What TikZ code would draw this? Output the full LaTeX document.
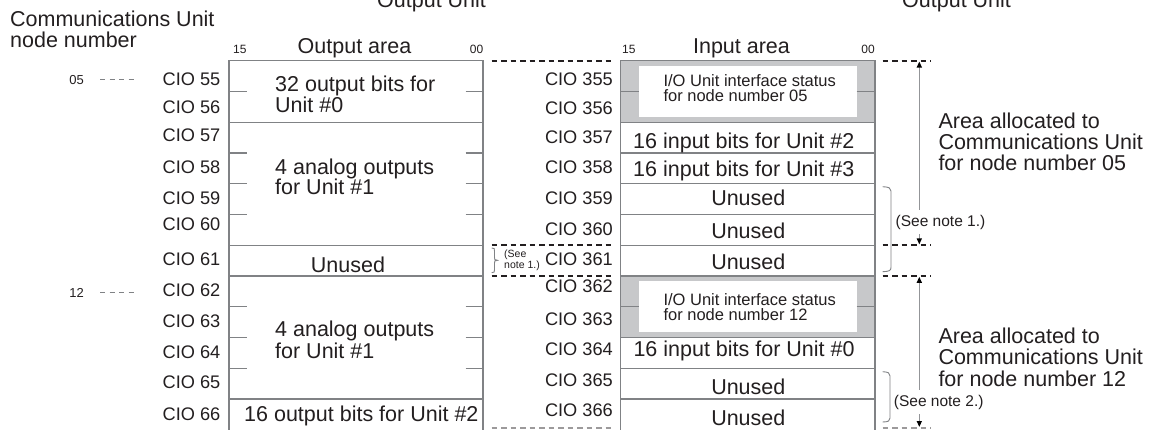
\documentclass[tikz,border=0pt]{standalone}
\usepackage{fontspec}
\setmainfont{Liberation Sans}
\usetikzlibrary{arrows.meta}
\definecolor{txt}{HTML}{231F20}
\definecolor{boxline}{HTML}{808285}
\definecolor{grayfill}{HTML}{C7C8CA}
\definecolor{arrowline}{HTML}{939598}
\begin{document}
\begin{tikzpicture}[x=1pt,y=-1pt,
  lbl/.style={inner sep=0pt, text=txt, font=\fontsize{21.5}{21}\selectfont},
  cio/.style={inner sep=0pt, text=txt, font=\fontsize{18.2}{18}\selectfont, anchor=base east},
  bitno/.style={inner sep=0pt, text=txt, font=\fontsize{12}{12}\selectfont},
  nodeno/.style={inner sep=0pt, text=txt, font=\fontsize{13}{13}\selectfont, anchor=base},
  status/.style={inner sep=0pt, text=txt, font=\fontsize{16.5}{16}\selectfont, anchor=base west},
  note/.style={inner sep=0pt, inner xsep=1pt, inner ysep=5pt, fill=white, text=txt, font=\fontsize{15.5}{15}\selectfont, anchor=base west},
  tinynote/.style={inner sep=0pt, text=txt, font=\fontsize{10.5}{10}\selectfont, anchor=base west},
  boxl/.style={draw=boxline, line width=1.3pt},
  sepline/.style={draw=txt, line width=1.9pt, dash pattern=on 5.5pt off 4pt},
  sepfaint/.style={draw=txt!45, line width=1.6pt, dash pattern=on 5.5pt off 4pt},
  leader/.style={draw=boxline, line width=0.9pt, dash pattern=on 5pt off 4.5pt},
  dimline/.style={draw=arrowline, line width=1.3pt, {Triangle[length=6pt,width=5pt,color=black]}-{Triangle[length=6pt,width=5pt,color=black]}},
  brk/.style={draw=boxline, line width=0.9pt},
]
\useasboundingbox[fill=white] (0,0) rectangle (1159,429);

% ---------- titles ----------
\node[lbl, anchor=base west] (tcu1) at (10,26.5) {Communications Unit};
\node[lbl, anchor=base west] (tcu2) at (10,47) {node number};
\node[lbl, anchor=base west] (tou1) at (377,7.3) {Output Unit};
\node[lbl, anchor=base west] (tou2) at (902,7.3) {Output Unit};

\node[bitno, anchor=base west] (o15) at (233,53) {15};
\node[lbl, anchor=base] (oarea) at (354.5,53) {Output area};
\node[bitno, anchor=base east] (o00) at (483.5,53) {00};
\node[bitno, anchor=base west] (i15) at (622,53) {15};
\node[lbl, anchor=base] (iarea) at (741.5,53) {Input area};
\node[bitno, anchor=base east] (i00) at (875,53) {00};

% ---------- node numbers ----------
\node[nodeno] (n05) at (76.7,84) {05};
\node[nodeno] (n12) at (76.7,297.5) {12};
\coordinate (d05a) at (100,79); \coordinate (d05b) at (137,79);
\coordinate (d12a) at (100,292.7); \coordinate (d12b) at (137,292.7);
\draw[leader] (d05a) -- (d05b);
\draw[leader] (d12a) -- (d12b);

% ---------- output area box ----------
\draw[boxl] (229,434) -- (229,60.7) -- (483,60.7) -- (483,434);
\foreach \yy in {122.2,245.2,275.95,398.95}
  \draw[boxl] (229,\yy) -- (483,\yy);
\foreach \yy in {91.45,152.95,183.7,214.45,306.7,337.45,368.2}{
  \draw[boxl] (229,\yy) -- (246.5,\yy);
  \draw[boxl] (465.5,\yy) -- (483,\yy);
}
\node[lbl, anchor=base west] (ob1a) at (275,91.7) {32 output bits for};
\node[lbl, anchor=base west] (ob1b) at (275,112.7) {Unit \#0};
\node[lbl, anchor=base west] (ob2a) at (275,174.3) {4 analog outputs};
\node[lbl, anchor=base west] (ob2b) at (275,194.3) {for Unit \#1};
\node[lbl, anchor=base] (ob3) at (348,272.5) {Unused};
\node[lbl, anchor=base west] (ob4a) at (275,336.7) {4 analog outputs};
\node[lbl, anchor=base west] (ob4b) at (275,358.3) {for Unit \#1};
\node[lbl, anchor=base west] (ob5) at (244,421.7) {16 output bits for Unit \#2};

\foreach \n/\yy in {55/85,56/113.3,57/141.7,58/173.3,59/204,60/230,61/265,62/296.7,63/327,64/358,65/388,66/420}
  \node[cio] (cio\n) at (220.5,\yy) {CIO \n};

% ---------- input area box ----------
\fill[grayfill] (620.7,60.7) rectangle (875,122.2);
\fill[grayfill] (620.7,275.95) rectangle (875,337.45);
\fill[white] (638.7,66) rectangle (856.7,116.7);
\fill[white] (638.7,281) rectangle (856.7,331.7);
\draw[boxl] (620.7,434) -- (620.7,60.7) -- (875,60.7) -- (875,434);
\foreach \yy in {122.2,152.95,183.7,214.45,245.2,275.95,337.45,368.2,398.95}
  \draw[boxl] (620.7,\yy) -- (875,\yy);
\foreach \yy in {91.45,306.7}{
  \draw[boxl] (620.7,\yy) -- (638.7,\yy);
  \draw[boxl] (856.7,\yy) -- (875,\yy);
}
\node[status] (st1a) at (663.3,86) {I/O Unit interface status};
\node[status] (st1b) at (663.3,101.7) {for node number 05};
\node[status] (st2a) at (663.3,305) {I/O Unit interface status};
\node[status] (st2b) at (663.3,320.5) {for node number 12};
\node[lbl, anchor=base west] (ib357) at (633,148.3) {16 input bits for Unit \#2};
\node[lbl, anchor=base west] (ib358) at (633,176.7) {16 input bits for Unit \#3};
\node[lbl, anchor=base] (ib359) at (748.3,205) {Unused};
\node[lbl, anchor=base] (ib360) at (748.3,238.3) {Unused};
\node[lbl, anchor=base] (ib361) at (748.3,269.3) {Unused};
\node[lbl, anchor=base west] (ib364) at (633.3,356.5) {16 input bits for Unit \#0};
\node[lbl, anchor=base] (ib365) at (748.3,394.5) {Unused};
\node[lbl, anchor=base] (ib366) at (748.3,425) {Unused};

\foreach \n/\yy in {355/85,356/114,357/143.3,358/173,359/204,360/235,361/265,362/292.7,363/325,364/355,365/386.7,366/416.7}
  \node[cio] (cio\n) at (613,\yy) {CIO \n};

% ---------- dashed separators ----------
\foreach \yy in {60.7,245.2,275.95}{
  \draw[sepline] (491.7,\yy) -- (613,\yy);
  \draw[sepline] (882.7,\yy) -- (930.7,\yy);
}
\draw[sepfaint] (491.7,427.8) -- (613,427.8);
\draw[sepfaint] (882.7,427.8) -- (930.7,427.8);

% ---------- brace between boxes ----------
\draw[brk] (491.7,248) .. controls (494.5,248.3) .. (494.5,251) -- (494.5,257.5)
  .. controls (494.5,259.8) .. (497.5,260.3) .. controls (494.5,260.8) .. (494.5,263)
  -- (494.5,269.5) .. controls (494.5,272.3) .. (491.7,272.7);
\node[tinynote] (sn1a) at (504,257) {(See};
\node[tinynote] (sn1b) at (504,268) {note 1.)};

% ---------- right side brackets ----------
\draw[brk] (882.7,186.7) .. controls (889,187) and (891,188) .. (891,191) -- (891,267.5)
  .. controls (891,270.5) and (889,271.5) .. (882.7,271.7);
\draw[brk] (882.7,371.7) .. controls (888.5,372) and (890,373) .. (890,376) -- (890,418)
  .. controls (890,421) and (888.5,421.8) .. (882.7,422);

% ---------- dimension arrows ----------
\coordinate (a1t) at (919.3,61.5); \coordinate (a1b) at (919.3,244.4);
\coordinate (a2t) at (919.3,276.8); \coordinate (a2b) at (919.3,427);
\draw[dimline] (a1t) -- (a1b);
\draw[dimline] (a2t) -- (a2b);
\node[note] (rn1) at (894.5,226) {(See note 1.)};
\node[note] (rn2) at (892.7,406) {(See note 2.)};

\node[lbl, anchor=base west] (ar1a) at (938.3,128.5) {Area allocated to};
\node[lbl, anchor=base west] (ar1b) at (938.3,149.5) {Communications Unit};
\node[lbl, anchor=base west] (ar1c) at (938.3,170.5) {for node number 05};
\node[lbl, anchor=base west] (ar2a) at (938.3,343) {Area allocated to};
\node[lbl, anchor=base west] (ar2b) at (938.3,364.5) {Communications Unit};
\node[lbl, anchor=base west] (ar2c) at (938.3,386) {for node number 12};
\end{tikzpicture}
\end{document}
